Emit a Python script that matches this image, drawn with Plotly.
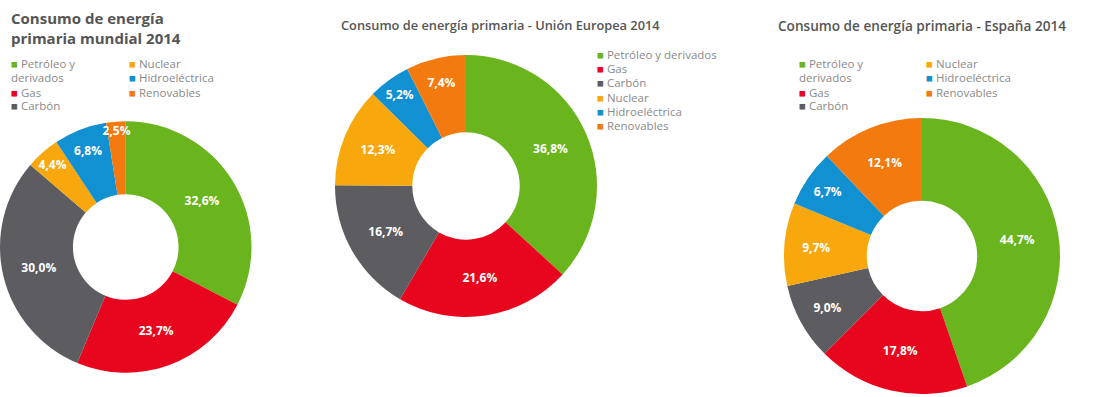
import plotly.graph_objects as go

# Primary energy consumption shares, 2014 (%)
categories = ["Petróleo y derivados", "Gas", "Carbón", "Nuclear", "Hidroeléctrica", "Renovables"]
world_2014 = [32.6, 23.7, 30.0, 4.4, 6.8, 2.5]
eu_2014 = [36.8, 21.6, 16.7, 12.3, 5.2, 7.4]
spain_2014 = [44.7, 17.8, 9.0, 9.7, 6.7, 12.1]

slice_colors = ["#6ab41e", "#e8061e", "#5d5d61", "#f8a80c", "#1190d2", "#f27a0e"]

title_world = "Consumo de energía<br>primaria mundial 2014"
title_eu = "Consumo de energía primaria - Unión Europea 2014"
title_spain = "Consumo de energía primaria - España 2014"

W, H = 1094, 397
FONT = "Open Sans"


def domain(cx, cy, r):
    """Pie domain (paper units) for a circle centred at (cx, cy) px from top-left."""
    return dict(
        x=[max(0, (cx - r) / W), min(1, (cx + r) / W)],
        y=[max(0, 1 - (cy + r) / H), min(1, 1 - (cy - r) / H)],
    )


def donut(values, dom, hole):
    return go.Pie(
        labels=categories,
        values=values,
        sort=False,
        direction="clockwise",
        rotation=0,
        hole=hole,
        domain=dom,
        marker=dict(colors=slice_colors, line=dict(color="white", width=0)),
        textposition="inside",
        insidetextorientation="horizontal",
        texttemplate="%{value:.1f}%",
        textfont=dict(color="white", size=12, family=FONT, weight="bold"),
        hovertemplate="%{label}: %{value:.1f}%<extra></extra>",
        showlegend=False,
    )


fig = go.Figure()
fig.add_trace(donut(world_2014, domain(124.5, 247, 127), 0.42))
fig.add_trace(donut(eu_2014, domain(466, 186, 131), 0.41))
fig.add_trace(donut(spain_2014, domain(922, 256, 138), 0.40))

annotations = []
TITLE_C = "#555555"
LEG_C = "#8a8a8a"


def add_text(text, x, y, size, color, weight="normal", yanchor="top"):
    annotations.append(dict(
        text=text, x=x / W, y=1 - y / H, xref="paper", yref="paper",
        xanchor="left", yanchor=yanchor, align="left", showarrow=False,
        font=dict(family=FONT, size=size, color=color, weight=weight),
    ))


def add_legend(idx, x, y0, step, wrap):
    """Legend column: one line per entry, long names optionally wrapped."""
    row = 0
    for i in idx:
        name = categories[i]
        parts = name.split(" derivados") if wrap and "derivados" in name else [name]
        first = f'<span style="color:{slice_colors[i]}">■</span> {parts[0]}'
        add_text(first, x, y0 + row * step, 11.5, LEG_C, yanchor="middle")
        row += 1
        if len(parts) > 1:
            add_text("derivados", x, y0 + row * step, 11.5, LEG_C, yanchor="middle")
            row += 1


# titles
add_text(title_world, 9, 6, 15, TITLE_C, "bold")
add_text(title_eu, 339, 14, 12.8, TITLE_C, 600)
add_text(title_spain, 776, 14, 13.6, TITLE_C, 600)

# legends (two columns for world and Spain, one column for EU)
add_legend([0, 1, 2], 9, 64, 14, True)
add_legend([3, 4, 5], 127, 64, 14, False)
add_legend(range(6), 595, 54, 14.4, False)
add_legend([0, 1, 2], 797, 64, 14, True)
add_legend([3, 4, 5], 924, 64, 14, False)

fig.update_layout(
    width=W,
    height=H,
    margin=dict(l=0, r=0, t=0, b=0),
    paper_bgcolor="white",
    plot_bgcolor="white",
    separators=", ",
    uniformtext=dict(minsize=12, mode="show"),
    annotations=annotations,
    font=dict(family=FONT),
)

fig.write_html("out.html")
